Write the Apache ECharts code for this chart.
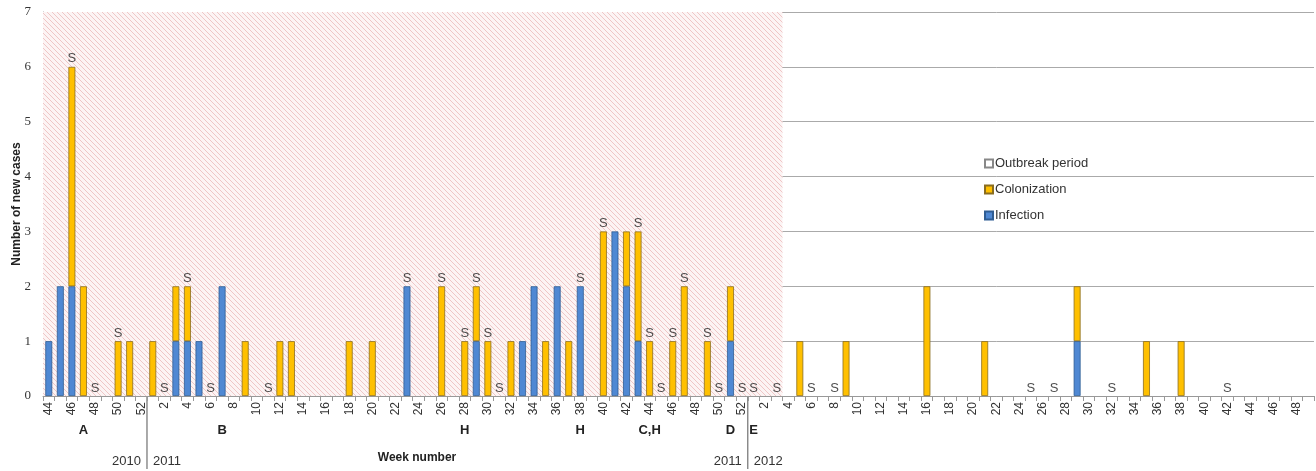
<!DOCTYPE html>
<html>
<head>
<meta charset="utf-8">
<script src="https://cdn.jsdelivr.net/npm/echarts@6/dist/echarts.min.js"></script>
<style>
html,body{margin:0;padding:0;background:#fff;}
#chart{width:1316px;height:471px;}
</style>
</head>
<body>
<div id="chart"></div>
<script>
// ---- Data ----
const weeks2010 = [44,45,46,47,48,49,50,51,52];
const weekCount2011 = 52;
const weekCount2012 = 49;

const infection2010    = [1,2,2,0,0,0,0,0,0];
const colonization2010 = [0,0,4,2,0,0,1,1,0];
const sFlag2010        = [0,0,1,0,1,0,1,0,0];

const infection2011 = [0,0,1,1,1,0,2,0,0,0, 0,0,0,0,0,0,0,0,0,0, 0,0,2,0,0,0,0,0,1,0, 0,0,1,2,0,2,0,2,0,0, 3,2,1,0,0,0,0,0,0,0, 1,0];
const colonization2011 = [1,0,1,1,0,0,0,0,1,0, 0,1,1,0,0,0,0,1,0,1, 0,0,0,0,0,2,0,1,1,1, 0,1,0,0,1,0,1,0,0,3, 0,1,2,1,0,1,2,0,1,0, 1,0];
const sFlag2011 = [0,1,0,1,0,1,0,0,0,0, 1,0,0,0,0,0,0,0,0,0, 0,0,1,0,0,1,0,1,1,1, 1,0,0,0,0,0,0,1,0,1, 0,0,1,1,1,1,1,0,1,1, 0,1];

const infection2012 = [0,0,0,0,0,0,0,0,0,0, 0,0,0,0,0,0,0,0,0,0, 0,0,0,0,0,0,0,0,1,0, 0,0,0,0,0,0,0,0,0,0, 0,0,0,0,0,0,0,0,0];
const colonization2012 = [0,0,0,0,1,0,0,0,1,0, 0,0,0,0,0,2,0,0,0,0, 1,0,0,0,0,0,0,0,1,0, 0,0,0,0,1,0,0,1,0,0, 0,0,0,0,0,0,0,0,0];
const sFlag2012 = [1,0,1,0,0,1,0,1,0,0, 0,0,0,0,0,0,0,0,0,0, 0,0,0,0,1,0,1,0,0,0, 0,1,0,0,0,0,0,0,0,0, 0,1,0,0,0,0,0,0,0];

const outbreakLetters = {"2010-47":"A","2011-7":"B","2011-28":"H","2011-38":"H","2011-44":"C,H","2011-51":"D","2012-1":"E"};
const outbreakStart = "2010-44";
const outbreakEnd = "2012-3";
const yearBreaks = [["2010-52","2011-1","2010","2011"],["2011-52","2012-1","2011","2012"]];

// ---- Build categories ----
const categories = [];
weeks2010.forEach(w => categories.push("2010-" + w));
for (let w = 1; w <= weekCount2011; w++) categories.push("2011-" + w);
for (let w = 1; w <= weekCount2012; w++) categories.push("2012-" + w);

const infection = infection2010.concat(infection2011, infection2012);
const colonization = colonization2010.concat(colonization2011, colonization2012);
const sFlags = sFlag2010.concat(sFlag2011, sFlag2012);
const sPoints = [];
sFlags.forEach((f, i) => { if (f) sPoints.push([categories[i], infection[i] + colonization[i]]); });
const letterAxisData = categories.map(c => outbreakLetters[c] || "");
// zero weeks draw no bar (avoid border slivers)
const asBars = arr => arr.map(v => v === 0 ? {value: 0, itemStyle: {borderWidth: 0, opacity: 0}} : v);

// hatch pattern
const pc = document.createElement('canvas');
pc.width = 5; pc.height = 5;
const ctx = pc.getContext('2d');
ctx.fillStyle = '#fcf4f4';
ctx.fillRect(0,0,5,5);
ctx.strokeStyle = '#efc6c6';
ctx.lineWidth = 1;
for (let k = -1; k <= 1; k++) {
  ctx.beginPath(); ctx.moveTo(k*5, 0); ctx.lineTo(k*5+5, 5); ctx.stroke();
}

const FONT = '"Liberation Sans", Arial, sans-serif';
const chart = echarts.init(document.getElementById('chart'), null, {renderer: 'canvas'});
const option = {
  animation: false,
  grid: {left: 43, right: 2, top: 12, bottom: 75, containLabel: false, outerBoundsMode: 'none'},
  legend: {
    orient: 'vertical', left: 979, top: 152, itemWidth: 8, itemHeight: 8, itemGap: 13,
    data: ['Outbreak period','Colonization','Infection'],
    textStyle: {fontFamily: FONT, fontSize: 13, color: '#333', padding: [0,0,0,-3]},
    icon: 'rect'
  },
  xAxis: [{
    type: 'category', data: categories, boundaryGap: true,
    axisLine: {lineStyle: {color: '#999'}},
    axisTick: {show: true, interval: 0, length: 5, lineStyle: {color: '#999'}},
    axisLabel: {interval: 1, rotate: 90, margin: 6, fontFamily: FONT, fontSize: 12, color: '#333',
      formatter: v => v.split('-')[1]}
  }, {
    type: 'category', data: letterAxisData, position: 'bottom', offset: 28, gridIndex: 0,
    axisLine: {show: false}, axisTick: {show: false},
    axisLabel: {interval: 0, margin: 0, fontFamily: FONT, fontSize: 13, fontWeight: 'bold', color: '#222'}
  }],
  yAxis: {
    type: 'value', min: 0, max: 7, interval: 1,
    name: 'Number of new cases', nameLocation: 'middle', nameGap: 20, nameRotate: 90, nameMoveOverlap: false,
    nameTextStyle: {fontFamily: FONT, fontSize: 12, fontWeight: 'bold', color: '#222'},
    axisLine: {show: true, lineStyle: {color: '#999'}},
    axisTick: {show: false},
    axisLabel: {fontFamily: '"Liberation Serif", "Times New Roman", serif', fontSize: 13, color: '#333', margin: 12},
    splitLine: {lineStyle: {color: '#aaa'}}
  },
  series: [{
    name: 'Outbreak period', type: 'bar', stack: 'cases', data: [],
    itemStyle: {color: '#fff', borderColor: '#888', borderWidth: 1},
    markArea: {silent: true, itemStyle: {color: {image: pc, repeat: 'repeat'}},
      data: [[{xAxis: outbreakStart}, {xAxis: outbreakEnd}]]},
    z: 1
  }, {
    name: 'Infection', type: 'bar', stack: 'cases', data: asBars(infection), barCategoryGap: '40%',
    itemStyle: {color: '#4F88D3', borderColor: '#2f5d93', borderWidth: 0.8}
  }, {
    name: 'Colonization', type: 'bar', stack: 'cases', data: asBars(colonization), barCategoryGap: '40%',
    itemStyle: {color: '#FFC000', borderColor: '#8a6d1f', borderWidth: 0.8}
  }, {
    name: 'S', type: 'scatter', data: sPoints, symbolSize: 1, itemStyle: {color: 'rgba(0,0,0,0)'},
    label: {show: true, position: 'top', distance: 1, formatter: 'S', fontFamily: FONT, fontSize: 13, color: '#222'},
    z: 5
  }]
};
chart.setOption(option);

// year separators and labels computed from the axis scale
const gfx = [];
const yBase = chart.convertToPixel({yAxisIndex: 0}, 0);
yearBreaks.forEach(b => {
  const x = (chart.convertToPixel({xAxisIndex: 0}, b[0]) + chart.convertToPixel({xAxisIndex: 0}, b[1])) / 2;
  gfx.push({type: 'line', shape: {x1: x, y1: yBase, x2: x, y2: 469}, style: {stroke: '#555', lineWidth: 1}});
  gfx.push({type: 'text', x: x - 6, y: 461, style: {text: b[2], align: 'right', verticalAlign: 'middle', font: '13px ' + FONT, fill: '#333'}});
  gfx.push({type: 'text', x: x + 6, y: 461, style: {text: b[3], align: 'left', verticalAlign: 'middle', font: '13px ' + FONT, fill: '#333'}});
});
gfx.push({type: 'text', x: 417, y: 458, style: {text: 'Week number', align: 'center', verticalAlign: 'middle', font: 'bold 12px ' + FONT, fill: '#222'}});
chart.setOption({graphic: gfx});
</script>
</body>
</html>
